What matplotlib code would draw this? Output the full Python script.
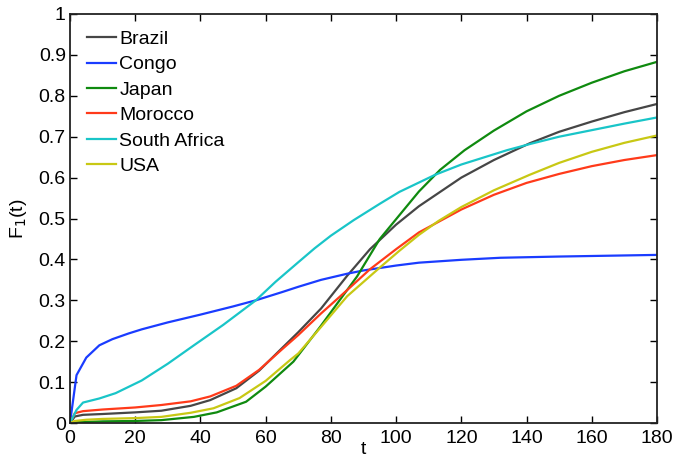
import matplotlib
matplotlib.use("Agg")
import matplotlib.pyplot as plt

plt.rcParams['font.family'] = ['Liberation Sans', 'DejaVu Sans']

# F_1(t) curves per country
t_brazil = [0, 1.5, 4, 10, 20, 28, 37, 43, 51, 58, 65, 70, 77, 85, 92, 100, 107, 120, 130, 141, 150, 160, 170, 180]
f_brazil = [0, 0.016, 0.02, 0.022, 0.026, 0.03, 0.042, 0.056, 0.085, 0.128, 0.183, 0.222, 0.28, 0.36, 0.425,
            0.485, 0.53, 0.6, 0.643, 0.684, 0.712, 0.737, 0.76, 0.78]

t_congo = [0, 2, 5, 9, 13, 18, 22, 30, 40, 50, 57, 65, 70, 77, 85, 90, 100, 107, 120, 132, 150, 165, 180]
f_congo = [0, 0.117, 0.16, 0.19, 0.205, 0.219, 0.229, 0.246, 0.265, 0.285, 0.30, 0.32, 0.333, 0.35, 0.365,
           0.373, 0.385, 0.392, 0.399, 0.404, 0.407, 0.409, 0.411]

t_japan = [0, 2, 10, 20, 28, 38, 45, 54, 60, 68.5, 76.7, 88, 95, 101, 107, 113.5, 121, 130, 140, 150, 160, 170, 180]
f_japan = [0, 0.002, 0.004, 0.005, 0.007, 0.015, 0.026, 0.052, 0.089, 0.15, 0.235, 0.358, 0.45, 0.508, 0.566,
           0.619, 0.667, 0.715, 0.762, 0.8, 0.832, 0.86, 0.883]

t_morocco = [0, 1.5, 4, 10, 20, 28, 37, 43, 51, 58, 65, 70, 77, 85, 92, 100, 107, 120, 130, 140, 150, 160, 170, 180]
f_morocco = [0, 0.024, 0.029, 0.033, 0.038, 0.044, 0.053, 0.065, 0.091, 0.13, 0.18, 0.215, 0.268, 0.325, 0.376,
             0.425, 0.466, 0.522, 0.558, 0.587, 0.609, 0.628, 0.643, 0.655]

t_safrica = [0, 2, 4, 9, 14, 22, 30, 38, 47, 57, 63, 70, 75, 80, 87, 95, 101, 112, 120, 134, 141, 150, 160, 170, 180]
f_safrica = [0, 0.032, 0.05, 0.06, 0.073, 0.104, 0.145, 0.19, 0.24, 0.30, 0.345, 0.393, 0.427, 0.458, 0.496,
             0.536, 0.565, 0.607, 0.632, 0.667, 0.682, 0.7, 0.716, 0.732, 0.747]

t_usa = [0, 1.5, 5, 10, 20, 28, 37, 44, 52, 60, 67.5, 70, 77, 85, 95, 101, 107, 113, 120, 130, 141, 150, 160, 170, 180]
f_usa = [0, 0.005, 0.008, 0.01, 0.012, 0.015, 0.025, 0.036, 0.061, 0.103, 0.154, 0.17, 0.235, 0.31, 0.38,
         0.421, 0.46, 0.494, 0.528, 0.569, 0.607, 0.636, 0.663, 0.685, 0.703]

series = [
    ("Brazil", t_brazil, f_brazil, "#464646"),
    ("Congo", t_congo, f_congo, "#1a3cff"),
    ("Japan", t_japan, f_japan, "#0f8a0f"),
    ("Morocco", t_morocco, f_morocco, "#ff3a1a"),
    ("South Africa", t_safrica, f_safrica, "#19c5c8"),
    ("USA", t_usa, f_usa, "#c8c814"),
]

x_ticks = list(range(0, 181, 20))
y_ticks = [0, 0.1, 0.2, 0.3, 0.4, 0.5, 0.6, 0.7, 0.8, 0.9, 1]
y_labels = ["0", "0.1", "0.2", "0.3", "0.4", "0.5", "0.6", "0.7", "0.8", "0.9", "1"]

fig = plt.figure(figsize=(6.75, 4.62), dpi=100)
ax = fig.add_axes([0.1037, 0.0844, 0.8696, 0.8853])

for name, t, f, c in series:
    ax.plot(t, f, color=c, lw=1.6, label=name)

ax.set_xlim(0, 180)
ax.set_ylim(0, 1)
ax.set_xticks(x_ticks)
ax.set_yticks(y_ticks)
ax.set_yticklabels(y_labels)
ax.tick_params(direction="in", top=True, right=True, labelsize=14, length=5, width=1)
ax.tick_params(axis="x", pad=5)
ax.tick_params(axis="y", pad=3)
for s in ax.spines.values():
    s.set_linewidth(1.3)
    s.set_color("#222222")

ax.set_xlabel("t", fontsize=14, labelpad=-4)
ax.set_ylabel("F$_1$(t)", fontsize=14, labelpad=7)

ax.legend(loc="upper left", frameon=False, fontsize=14, handlelength=1.5, handletextpad=0.15,
          labelspacing=0.4, borderaxespad=0, bbox_to_anchor=(0.016, 0.979))

fig.savefig("out.png", dpi=100)
